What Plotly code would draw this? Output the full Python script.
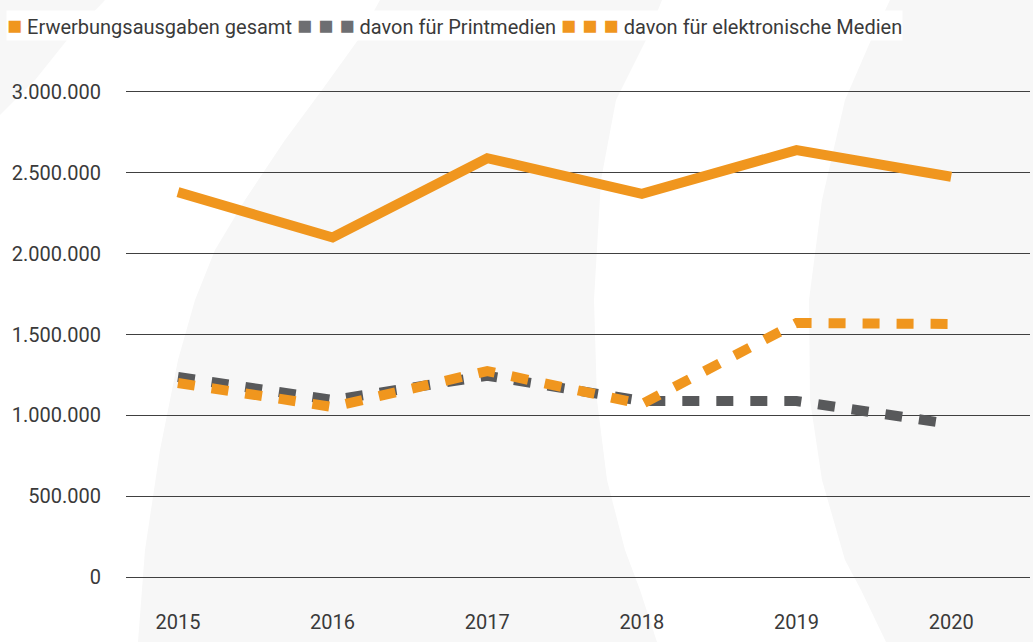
import plotly.graph_objects as go

years = ["2015", "2016", "2017", "2018", "2019", "2020"]
gesamt = [2380000, 2100000, 2590000, 2370000, 2640000, 2475000]
print_medien = [1237000, 1095000, 1245000, 1089000, 1089000, 946000]
elektronisch = [1200000, 1052000, 1274000, 1070000, 1571000, 1565000]

ORANGE = "#F0961E"
GRAY = "#58595B"
TEXT = "#3A3A3A"
FONT = "Roboto, sans-serif"

W, H = 1033, 642
L, R, T, B = 126, 3, 87, 60
PW, PH = W - L - R, H - T - B

def px(x, y):
    return (x - L) / PW, (H - B - y) / PH

def path(points):
    s = ""
    for i, (x, y) in enumerate(points):
        xp, yp = px(x, y)
        s += ("M" if i == 0 else "L") + f"{xp:.5f},{yp:.5f} "
    return s + "Z"

bg_a = [(0, 0), (105, 0), (67, 40), (35, 80), (0, 115)]
bg_b = [(380, 0), (358, 40), (322, 90), (285, 140), (245, 200), (215, 250), (195, 300),
        (178, 360), (160, 450), (145, 550), (138, 642),
        (657, 642), (640, 590), (625, 550), (607, 480), (597, 400), (594, 300),
        (601, 180), (616, 100), (646, 40), (662, 0)]
bg_c = [(890, 0), (871, 40), (845, 100), (822, 200), (809, 300), (810, 400), (822, 480),
        (845, 560), (861, 590), (886, 642), (1033, 642), (1033, 0)]

shapes = [dict(type="path", xref="paper", yref="paper", path=path(p),
               fillcolor="#F7F7F7", line=dict(width=0), layer="below")
          for p in (bg_a, bg_b, bg_c)]

xs = list(range(len(years)))
fig = go.Figure()
fig.add_trace(go.Scatter(x=xs, y=gesamt, mode="lines", name="Erwerbungsausgaben gesamt",
                         line=dict(color=ORANGE, width=10)))
fig.add_trace(go.Scatter(x=xs, y=print_medien, mode="lines", name="davon für Printmedien",
                         line=dict(color=GRAY, width=10, dash="17px,17px")))
fig.add_trace(go.Scatter(x=xs, y=elektronisch, mode="lines", name="davon für elektronische Medien",
                         line=dict(color=ORANGE, width=10, dash="17px,17px")))

lx, ly = px(6, 25)
SQ = "font-size:25px"
legend_text = (f"<span style='color:{ORANGE};{SQ}'>■</span> Erwerbungsausgaben gesamt "
               f"<span style='color:#6D6E71;{SQ}'>■ ■ ■</span> davon für Printmedien "
               f"<span style='color:{ORANGE};{SQ}'>■ ■ ■</span> davon für elektronische Medien")

fig.update_layout(
    width=W, height=H,
    margin=dict(l=L, r=R, t=T, b=B),
    paper_bgcolor="white",
    plot_bgcolor="rgba(0,0,0,0)",
    showlegend=False,
    separators=",.",
    font=dict(family=FONT, size=20, color=TEXT),
    shapes=shapes,
    annotations=[dict(text=legend_text, xref="paper", yref="paper", x=lx, y=ly,
                      xanchor="left", yanchor="middle", showarrow=False,
                      bgcolor="white", borderpad=0,
                      font=dict(family=FONT, size=20, color=TEXT))],
    xaxis=dict(range=[-0.336, 5.51], tickvals=xs, ticktext=years, showgrid=False,
               zeroline=False, showline=False, ticks="", ticklabelstandoff=26,
               tickfont=dict(size=20, color=TEXT)),
    yaxis=dict(range=[-30000, 3030000], tickvals=[0, 500000, 1000000, 1500000, 2000000, 2500000, 3000000],
               tickformat=",d", showgrid=True, gridcolor="#404040", gridwidth=1,
               zeroline=False, showline=False, ticks="", ticklabelstandoff=24,
               tickfont=dict(size=20, color=TEXT)),
)

fig.write_html("out.html")
